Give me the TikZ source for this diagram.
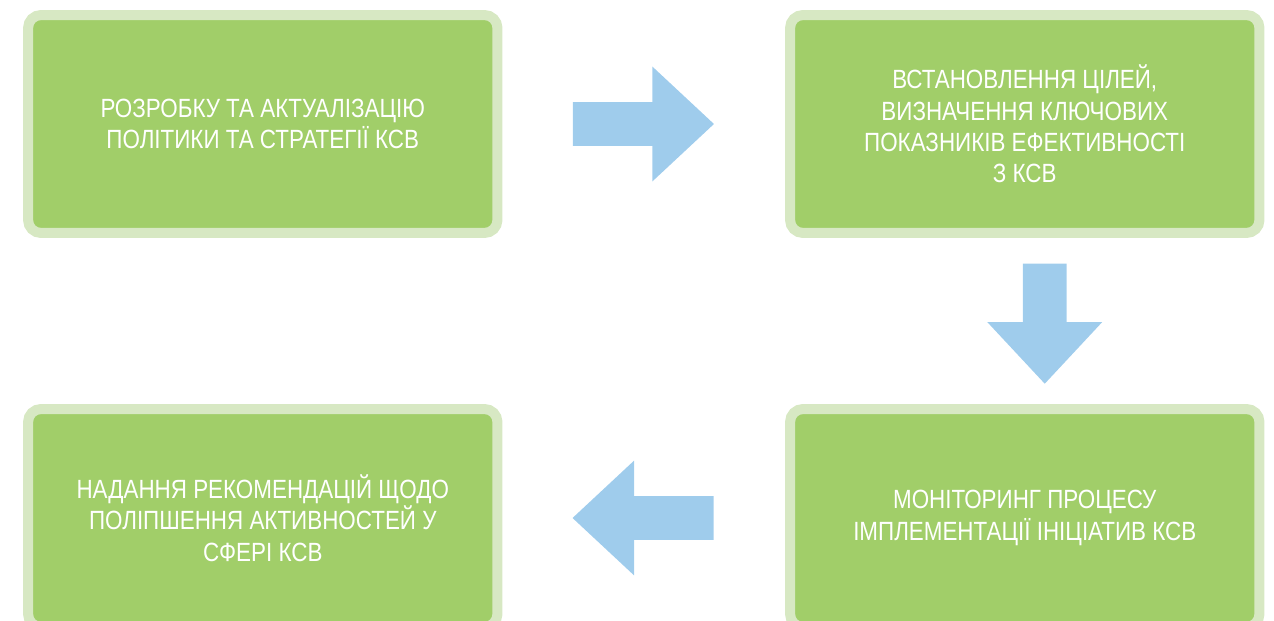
\documentclass[tikz,border=0pt]{standalone}
\usepackage{fontspec}
\setmainfont{Liberation Sans}[FakeStretch=0.85]
\usetikzlibrary{shapes.arrows,calc}

\definecolor{kgreen}{RGB}{161,206,105}
\definecolor{kbord}{RGB}{215,232,195}
\definecolor{kblue}{RGB}{159,204,236}

\tikzset{
  stage/.style={draw=kbord, fill=kgreen, line width=0.2cm, rounded corners=0.26cm,
    minimum width=9.39cm, minimum height=4.36cm, align=center, text=white,
    font=\fontsize{15}{17.8}\selectfont},
  pointer/.style={single arrow, fill=kblue, draw=none, inner sep=0.43cm,
    minimum height=2.82cm, single arrow head extend=0.71cm, single arrow tip angle=86}
}

\begin{document}
\begin{tikzpicture}[x=0.02cm, y=-0.02cm]
  \useasboundingbox (0, 0) rectangle (1274, 621);

  % stages
  \node[stage] (policy) at (262.75, 124) {РОЗРОБКУ ТА АКТУАЛІЗАЦІЮ\\ПОЛІТИКИ ТА СТРАТЕГІЇ КСВ};
  \node[stage] (goals) at (1024.75, 124) {ВСТАНОВЛЕННЯ ЦІЛЕЙ,\\ВИЗНАЧЕННЯ КЛЮЧОВИХ\\ПОКАЗНИКІВ ЕФЕКТИВНОСТІ\\З КСВ};
  \node[stage] (monitor) at (1024.75, 518) {МОНІТОРИНГ ПРОЦЕСУ\\ІМПЛЕМЕНТАЦІЇ ІНІЦІАТИВ КСВ};
  \node[stage] (advice) at (262.75, 518) {НАДАННЯ РЕКОМЕНДАЦІЙ ЩОДО\\ПОЛІПШЕННЯ АКТИВНОСТЕЙ У\\СФЕРІ КСВ};

  % arrows between stages
  \node[pointer] (toGoals) at ([xshift=-0.24cm]$(policy.east)!0.5!(goals.west)$) {};
  \node[pointer, rotate=-90, minimum height=2.4cm] (toMonitor) at ([xshift=0.4cm, yshift=0.18cm]$(goals.south)!0.5!(monitor.north)$) {};
  \node[pointer, rotate=180] (toAdvice) at ([xshift=0.22cm]$(monitor.west)!0.5!(advice.east)$) {};
\end{tikzpicture}
\end{document}
